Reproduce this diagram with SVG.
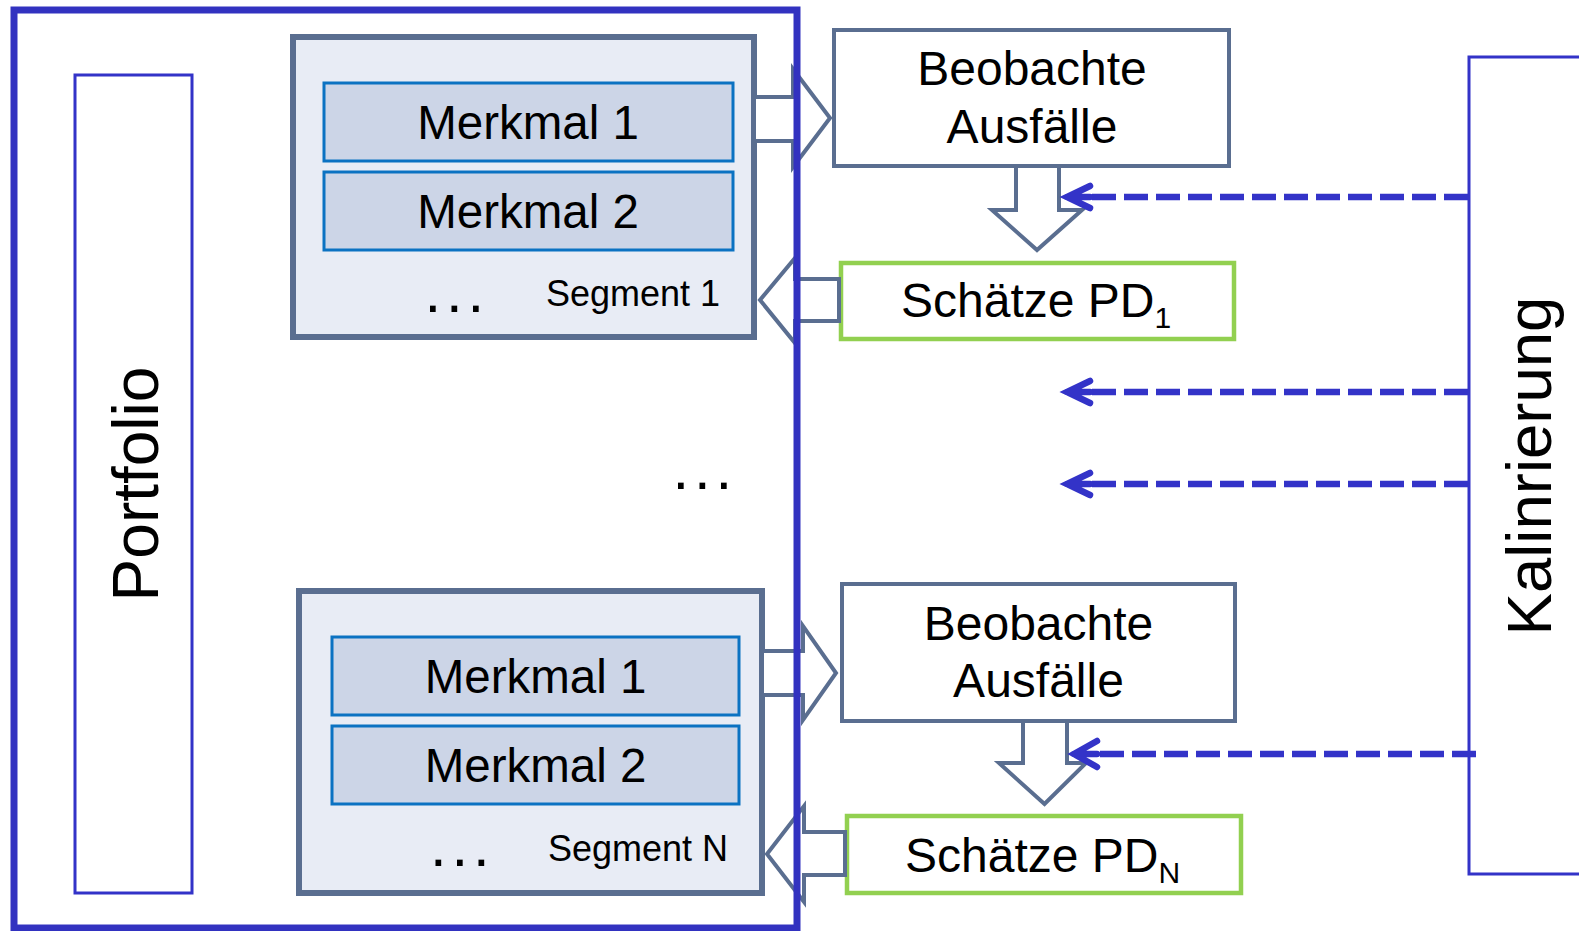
<svg xmlns="http://www.w3.org/2000/svg" width="1579" height="931" viewBox="0 0 1579 931">
<defs>
<style>
text{font-family:"Liberation Sans",Arial,sans-serif;fill:#000}
.big{font-size:47.5px;text-anchor:middle}
.obt{font-size:48px;text-anchor:middle}
.lbl{text-anchor:middle}
.seg{font-size:36px}
.dots{font-size:60px;letter-spacing:4.8px}
.pd{font-size:48px}
.sub{font-size:30px}
.segbox{fill:#e8ecf5;stroke:#5a6e90;stroke-width:6}
.mk{fill:#ccd5e7;stroke:#0b72c2;stroke-width:3}
.obs{fill:#fff;stroke:#5a6e90;stroke-width:4}
.est{fill:#fff;stroke:#92d050;stroke-width:4.5}
.blk{fill:#fff;stroke:#5a6e90;stroke-width:4;stroke-linejoin:miter}
.dash{fill:none;stroke:#3333c8;stroke-width:6.5;stroke-dasharray:24 8}
.head{fill:none;stroke:#3333c8;stroke-width:6.5;stroke-linecap:round;stroke-linejoin:miter}
.thin{fill:none;stroke:#3333c8;stroke-width:3}
</style>
</defs>
<rect width="1579" height="931" fill="#fff"/>

<g id="portfolio">
<rect class="thin" x="75" y="75" width="117" height="818"/>
<text class="lbl" style="font-size:64px" transform="translate(158,484) rotate(-90)">Portfolio</text>
</g>

<g id="segment1">
<rect class="segbox" x="293" y="37" width="461" height="300"/>
<rect class="mk" x="324" y="83" width="409" height="78"/>
<text class="big" x="528" y="139">Merkmal 1</text>
<rect class="mk" x="324" y="172" width="409" height="78"/>
<text class="big" x="528" y="228">Merkmal 2</text>
<text class="dots" x="424.5" y="312">...</text>
<text class="seg" x="546" y="306">Segment 1</text>
</g>

<g id="segmentN">
<rect class="segbox" x="299" y="591" width="463" height="302"/>
<rect class="mk" x="332" y="637" width="407" height="78"/>
<text class="big" x="535.5" y="693">Merkmal 1</text>
<rect class="mk" x="332" y="726" width="407" height="78"/>
<text class="big" x="535.5" y="782">Merkmal 2</text>
<text class="dots" x="430" y="866">...</text>
<text class="seg" x="548" y="861">Segment N</text>
</g>

<g id="middle-dots">
<text class="dots" x="672.5" y="489">...</text>
</g>

<g id="observed1">
<rect class="obs" x="834" y="30" width="395" height="136"/>
<text class="obt" x="1032" y="85">Beobachte</text>
<text class="obt" x="1032" y="143">Ausfälle</text>
</g>

<g id="estimate1">
<rect class="est" x="841" y="263" width="393" height="76"/>
<text class="pd" x="901" y="317">Schätze PD<tspan class="sub" dy="11">1</tspan></text>
</g>

<g id="observedN">
<rect class="obs" x="842" y="584" width="393" height="137"/>
<text class="obt" x="1038.5" y="640">Beobachte</text>
<text class="obt" x="1038.5" y="697">Ausfälle</text>
</g>

<g id="estimateN">
<rect class="est" x="847" y="816" width="394" height="77"/>
<text class="pd" x="905" y="872">Schätze PD<tspan class="sub" dy="11">N</tspan></text>
</g>

<g id="kalibrierung">
<path class="thin" d="M1585 57 H1469 V874 H1585"/>
<text class="lbl" style="font-size:63.5px" transform="translate(1551,466) rotate(-90)">Kalinrierung</text>
</g>

<g id="connectors">
<polygon class="blk" points="754,97 793,97 793,69 830,118 793,167 793,141 754,141"/>
<polygon class="blk" points="1016,166 1016,210 992,210 1037,250 1082,210 1059,210 1059,166"/>
<polygon class="blk" points="839,279 795,279 795,258 760,300 795,343 795,321 839,321"/>
<polygon class="blk" points="762,651 803,651 803,626 836,673 803,720 803,695 762,695"/>
<polygon class="blk" points="1023,721 1023,763 999,763 1044.5,804 1086,763 1067,763 1067,721"/>
<polygon class="blk" points="845,832 804,832 804,806 767,854 804,902 804,875 845,875"/>

<path class="dash" d="M1092 197 H1468"/>
<path class="head" d="M1090 186 L1067 197 L1090 208 M1067 197 H1090"/>
<path class="dash" d="M1092 392 H1468"/>
<path class="head" d="M1090 381 L1067 392 L1090 403 M1067 392 H1090"/>
<path class="dash" d="M1092 484 H1468"/>
<path class="head" d="M1090 473 L1067 484 L1090 495 M1067 484 H1090"/>
<path class="dash" d="M1100 754 H1476"/>
<path class="head" d="M1097 741 L1074 754 L1097 767 M1074 754 H1097"/>
</g>

<g id="frame">
<rect x="14" y="10" width="783" height="918" fill="none" stroke="#3232c0" stroke-width="7"/>
</g>
</svg>
